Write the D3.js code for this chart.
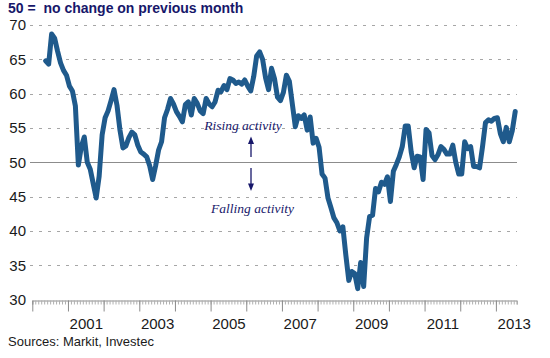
<!DOCTYPE html>
<html>
<head>
<meta charset="utf-8">
<script src="https://cdn.jsdelivr.net/npm/d3@7"></script>
<style>
  html, body { margin: 0; padding: 0; background: #ffffff; }
  svg { display: block; }
</style>
</head>
<body>
<div id="chart"></div>
<script>
// ---- Data ----
const startYear = 2000;
const firstMonthIndex = 4;          // first value = May 2000
const values = [
  64.8, 64.3, 68.7, 68.1, 66.2, 64.5, 63.4, 62.7, 61.1, 60.4,
  58.2, 49.6, 52.3, 53.7, 50.0, 49.0, 46.9, 44.8, 48.0, 54.0,
  56.5, 57.5, 59.0, 60.6, 58.3, 54.7, 52.1, 52.4, 53.6, 54.4,
  54.0, 52.5, 51.5, 51.2, 50.8, 49.5, 47.5, 49.5, 51.8, 53.0,
  56.5, 57.7, 59.3, 58.5, 57.4, 56.7, 55.9, 58.4, 58.8, 56.9,
  59.3, 58.6, 57.5, 57.1, 59.3, 58.5, 58.1, 58.8, 60.5, 60.3,
  61.2, 60.6, 62.2, 62.0, 61.5, 61.7, 61.4, 62.0, 61.1, 60.4,
  62.5, 65.5, 66.1, 65.0, 62.3, 60.6, 63.7, 62.2, 59.5, 59.0,
  60.2, 62.7, 61.8, 58.5, 55.2, 56.8, 56.4, 56.9, 54.7, 56.6,
  52.8, 53.5, 52.2, 48.3, 47.7, 44.8, 43.4, 41.9, 41.2, 40.0,
  40.6, 36.5, 32.8, 34.1, 33.8, 31.6, 35.4, 31.9, 39.0, 42.1,
  42.3, 46.2, 45.7, 47.1, 46.8, 47.9, 44.3, 48.7, 49.7, 50.8,
  52.3, 55.3, 55.3, 51.5, 49.2, 50.9, 50.8, 47.5, 54.8, 54.3,
  51.0, 50.4, 51.1, 52.3, 51.9, 51.2, 51.2, 52.5, 50.0, 48.3,
  48.3, 53.0, 52.0, 52.3, 49.4, 49.4, 49.2, 52.3, 55.8, 56.2,
  56.0, 56.4, 56.5, 54.2, 53.0, 55.1, 53.0, 54.6, 57.4
];
const totalMonths = 163;
const yTicks = [30, 35, 40, 45, 50, 55, 60, 65, 70];
const xLabelYears = ["2001", "2003", "2005", "2007", "2009", "2011", "2013"];
const titleText = "50 =  no change on previous month";
const sourceText = "Sources: Markit, Investec";
const risingText = "Rising activity";
const fallingText = "Falling activity";

// ---- Layout ----
const W = 550, H = 358;
const sans = "'Liberation Sans', Arial, sans-serif";
const serif = "'Liberation Serif', 'Times New Roman', serif";
const svg = d3.select("#chart").append("svg").attr("width", W).attr("height", H);

const x = d3.scaleLinear().domain([0, totalMonths]).range([32.3, 516.7]);
const y = d3.scaleLinear().domain([30, 70]).range([299.6, 25.1]);

const navy = "#17176a";
const lineColor = "#1f5a8c";

// Gridlines
svg.append("g").selectAll("line")
  .data(yTicks.filter(v => v !== 30 && v !== 50))
  .join("line")
  .attr("x1", 30).attr("x2", 517)
  .attr("y1", d => Math.round(y(d)) + 0.5).attr("y2", d => Math.round(y(d)) + 0.5)
  .attr("stroke", "#a6a6a6").attr("stroke-width", 1)
  .attr("stroke-dasharray", "3,6");

svg.append("line")
  .attr("x1", 30).attr("x2", 517)
  .attr("y1", Math.round(y(50)) + 0.5).attr("y2", Math.round(y(50)) + 0.5)
  .attr("stroke", "#8c8c8c").attr("stroke-width", 1);

// Y axis labels
const yAxis = d3.axisLeft(y).tickValues(yTicks).tickSize(0).tickPadding(6);
const gy = svg.append("g").attr("transform", "translate(32,0)").call(yAxis);
gy.select(".domain").remove();
gy.selectAll("text").attr("font-size", 15).attr("fill", "#1a1a1a")
  .style("font-family", sans);

// X axis: minor ticks (months)
const axisY = Math.round(y(30)) + 0.5;
const minor = d3.axisBottom(x).tickValues(d3.range(0, totalMonths + 1)).tickSize(4).tickFormat("");
const gMinor = svg.append("g").attr("transform", `translate(0,${axisY})`).call(minor);
gMinor.select(".domain").attr("stroke", "#8c8c8c");
gMinor.selectAll(".tick line").attr("stroke", "#b0b0b0");

// Major ticks (years)
const major = d3.axisBottom(x).tickValues(d3.range(0, totalMonths, 12)).tickSize(11).tickFormat("");
const gMajor = svg.append("g").attr("transform", `translate(0,${axisY})`).call(major);
gMajor.select(".domain").remove();
gMajor.selectAll(".tick line").attr("stroke", "#8c8c8c");

// Year labels centered on the year interval
const labelPos = xLabelYears.map(s => (+s - startYear) * 12 + 6);
const labels = d3.axisBottom(x).tickValues(labelPos).tickSize(0).tickPadding(0)
  .tickFormat((d, i) => xLabelYears[i]);
const gLab = svg.append("g").attr("transform", `translate(0,${axisY})`).call(labels);
gLab.select(".domain").remove();
gLab.selectAll("text").attr("font-size", 15).attr("fill", "#1a1a1a")
  .attr("dy", null).attr("y", 28)
  .style("font-family", sans);

// Line
const pts = values.map((v, i) => ({ m: firstMonthIndex + i + 0.5, v }));
const line = d3.line().x(d => x(d.m)).y(d => y(d.v));
svg.append("path").datum(pts)
  .attr("d", line)
  .attr("fill", "none")
  .attr("stroke", lineColor)
  .attr("stroke-width", 5)
  .attr("stroke-linejoin", "round")
  .attr("stroke-linecap", "round");

// Title
svg.append("text").attr("x", 8).attr("y", 13)
  .attr("font-size", 14).attr("font-weight", "bold").attr("fill", navy)
  .style("font-family", sans)
  .style("white-space", "pre")
  .text(titleText);

// Annotations
svg.append("text").attr("x", 243).attr("y", 130)
  .attr("text-anchor", "middle")
  .style("font-family", serif)
  .attr("font-style", "italic").attr("font-size", 13.5).attr("fill", navy)
  .text(risingText);
svg.append("text").attr("x", 252.5).attr("y", 213)
  .attr("text-anchor", "middle")
  .style("font-family", serif)
  .attr("font-style", "italic").attr("font-size", 13.5).attr("fill", navy)
  .text(fallingText);

const ax = 251;
svg.append("line").attr("x1", ax).attr("x2", ax).attr("y1", 142).attr("y2", 157)
  .attr("stroke", navy).attr("stroke-width", 1.3);
svg.append("path").attr("d", `M${ax},136.5 L${ax - 3},144 L${ax + 3},144 Z`).attr("fill", navy);
svg.append("line").attr("x1", ax).attr("x2", ax).attr("y1", 168).attr("y2", 184)
  .attr("stroke", navy).attr("stroke-width", 1.3);
svg.append("path").attr("d", `M${ax},191 L${ax - 3},183.5 L${ax + 3},183.5 Z`).attr("fill", navy);

// Source
svg.append("text").attr("x", 8).attr("y", 346)
  .attr("font-size", 13).attr("fill", "#1a1a1a")
  .style("font-family", sans)
  .text(sourceText);
</script>
</body>
</html>
